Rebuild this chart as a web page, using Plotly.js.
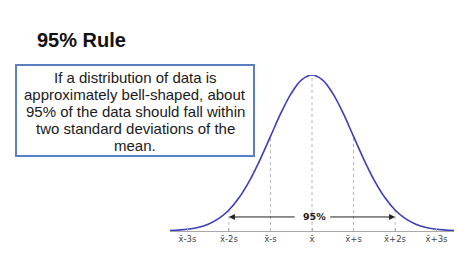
<!DOCTYPE html>
<html>
<head>
<meta charset="utf-8">
<script src="https://cdn.plot.ly/plotly-3.0.1.min.js"></script>
<style>html,body{margin:0;padding:0;background:#fff;}#chart{width:474px;height:266px;}</style>
</head>
<body>
<div id="chart"></div>
<script>
// Data
const titleText = '95% Rule';
const boxLines = [
  'If a distribution of data is',
  'approximately bell-shaped, about',
  '95% of the data should fall within',
  'two standard deviations of the',
  'mean.'
];
const tickValues = [-3, -2, -1, 0, 1, 2, 3];
const tickLabels = ['x\u0304-3s', 'x\u0304-2s', 'x\u0304-s', 'x\u0304', 'x\u0304+s', 'x\u0304+2s', 'x\u0304+3s'];
const curveX = [-3.42, -3, -2.75, -2.5, -2.25, -2, -1.75, -1.5, -1.25, -1, -0.75, -0.5, -0.25, 0,
                0.25, 0.5, 0.75, 1, 1.25, 1.5, 1.75, 2, 2.25, 2.5, 2.75, 3, 3.42];
const curveY = [0.3, 1.1, 2.3, 4.4, 7.9, 13.5, 21.6, 32.5, 45.8, 60.7, 75.5, 88.2, 96.9, 100,
                96.9, 88.2, 75.5, 60.7, 45.8, 32.5, 21.6, 13.5, 7.9, 4.4, 2.3, 1.1, 0.3];
const guideX = [-2, -1, 0, 1, 2];
const arrowLabel = '95%';
const arrowLevel = 9;
const arrowSpan = [-2, 2];

const guideY = guideX.map(g => curveY[curveX.indexOf(g)]);
const gx = [], gy = [];
guideX.forEach((g, i) => { gx.push(g, g, null); gy.push(0, guideY[i], null); });

// pixel helpers for layout placement (plot area 170..454 x, 75..231 y)
const L = 170, R = 20, T = 75, B = 35, W = 474 - L - R, H = 266 - T - B;
const px = v => (v - L) / W;
const py = v => (266 - B - v) / H;

const traces = [
  {x: gx, y: gy, mode: 'lines', line: {color: '#b5b5b5', width: 1, dash: 'dot'}, hoverinfo: 'skip', cliponaxis: false},
  {x: curveX, y: curveY, mode: 'lines', line: {color: '#3d3db8', width: 1.6, shape: 'spline', smoothing: 1}, hoverinfo: 'skip', cliponaxis: false}
];

const lineYs = [77, 94, 111, 128, 145.5];
const annotations = boxLines.map((t, i) => ({
  xref: 'paper', yref: 'paper', x: px(135), y: py(lineYs[i]), xanchor: 'center', yanchor: 'middle',
  text: t, showarrow: false, font: {family: 'Liberation Sans, Arial, sans-serif', size: 15, color: '#1a1a1a'}
}));
annotations.push({
  x: 0.06, y: arrowLevel, xref: 'x', yref: 'y', text: '<b>' + arrowLabel + '</b>', showarrow: false,
  font: {family: 'DejaVu Sans, Verdana, sans-serif', size: 9.5, color: '#222'}
});
annotations.push({
  x: arrowSpan[0], y: arrowLevel, ax: -0.38, ay: arrowLevel, xref: 'x', yref: 'y', axref: 'x', ayref: 'y',
  text: '', showarrow: true, arrowhead: 2, arrowsize: 1.2, arrowwidth: 1, arrowcolor: '#222'
});
annotations.push({
  x: arrowSpan[1], y: arrowLevel, ax: 0.4, ay: arrowLevel, xref: 'x', yref: 'y', axref: 'x', ayref: 'y',
  text: '', showarrow: true, arrowhead: 2, arrowsize: 1.2, arrowwidth: 1, arrowcolor: '#222'
});

const layout = {
  width: 474, height: 266,
  margin: {l: L, r: R, t: T, b: B, pad: 0},
  paper_bgcolor: '#ffffff', plot_bgcolor: '#ffffff',
  showlegend: false,
  title: {
    text: '<b>' + titleText + '</b>', xref: 'container', yref: 'container',
    x: 37 / 474, xanchor: 'left', y: 1 - 40 / 266, yanchor: 'middle',
    font: {family: 'Liberation Sans, Arial, sans-serif', size: 20, color: '#111'}
  },
  xaxis: {
    range: [-3.42, 3.42], showgrid: false, zeroline: false,
    showline: true, linecolor: '#a8a8a8', linewidth: 1,
    tickmode: 'array', tickvals: tickValues, ticktext: tickLabels,
    ticks: 'inside', ticklen: 3, tickcolor: '#b0b0b0',
    tickfont: {family: 'DejaVu Sans, Verdana, sans-serif', size: 8.5, color: '#444'},
    fixedrange: true
  },
  yaxis: {range: [0, 100], visible: false, fixedrange: true},
  shapes: [{
    type: 'rect', xref: 'paper', yref: 'paper',
    x0: px(16), x1: px(254), y0: py(156), y1: py(65),
    line: {color: '#5b80c2', width: 2}, fillcolor: 'rgba(255,255,255,0)', layer: 'above'
  }],
  annotations: annotations
};

Plotly.newPlot('chart', traces, layout, {displayModeBar: false, staticPlot: true});
</script>
</body>
</html>
